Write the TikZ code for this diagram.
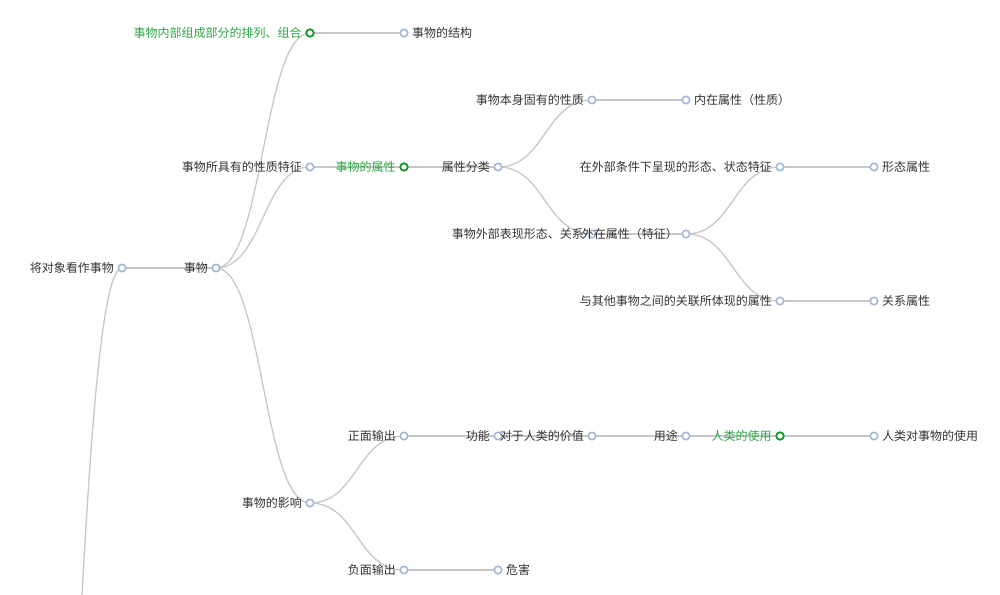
\documentclass[tikz,border=0pt]{standalone}
\usepackage{fontspec}
\setmainfont{Noto Sans CJK SC}
\usepackage{tikz}
\usetikzlibrary{positioning, calc}
\pgfdeclarelayer{background}
\pgfsetlayers{background,main}

\definecolor{linkgray}{HTML}{C8C8C8}
\definecolor{dotblue}{HTML}{9FB4D6}
\definecolor{dotgreen}{HTML}{119A2A}
\definecolor{hlgreen}{HTML}{2EA545}
\definecolor{txtgray}{HTML}{333333}

\begin{document}
\begin{tikzpicture}[x=1pt, y=-1pt,
    dot/.style={circle, draw=dotblue, fill=white, line width=1.5pt, minimum size=7.5pt, inner sep=0pt},
    hldot/.style={dot, draw=dotgreen, line width=1.8pt},
    lbl/.style={font=\fontsize{12}{14}\selectfont, text=txtgray, inner sep=0pt, text height=10.5pt, text depth=1.5pt},
    hl/.style={lbl, text=hlgreen},
    link/.style={draw=linkgray, line width=1.3pt},
    branch/.style={to path={let \p1=(\tikztostart), \p2=(\tikztotarget) in
        .. controls ({0.5*\x1+0.5*\x2},\y1) and ({0.5*\x1+0.5*\x2},\y2) .. (\tikztotarget)}},
]
  \useasboundingbox (0,0) rectangle (1000,594);

  % root sits below the visible area
  \coordinate (root) at (28,1190);

  % level 1-2
  \node[dot] (obj) at (122,268) {};
  \node[dot] (thing) at (216,268) {};

  % structure branch
  \node[hldot] (inner) at (310,33) {};
  \node[dot] (struct) at (404,33) {};

  % attribute branch
  \node[dot] (feat) at (310,167) {};
  \node[hldot] (attr) at (404,167) {};
  \node[dot] (cls) at (498,167) {};
  \node[dot] (intr) at (592,100) {};
  \node[dot] (intrattr) at (686,100) {};
  \node[dot] (outer) at (592,234) {};
  \node[dot] (extattr) at (686,234) {};
  \node[dot] (form) at (780,167) {};
  \node[dot] (formattr) at (874,167) {};
  \node[dot] (rel) at (780,301) {};
  \node[dot] (relattr) at (874,301) {};

  % effect branch
  \node[dot] (effect) at (310,503) {};
  \node[dot] (pos) at (404,436) {};
  \node[dot] (func) at (498,436) {};
  \node[dot] (value) at (592,436) {};
  \node[dot] (use) at (686,436) {};
  \node[hldot] (humuse) at (780,436) {};
  \node[dot] (humthing) at (874,436) {};
  \node[dot] (neg) at (404,570) {};
  \node[dot] (harm) at (498,570) {};

  % links
  \begin{pgfonlayer}{background}
    \clip (0,0) rectangle (1000,594);
    \draw[link] (root) to[branch] (obj.center);
    \draw[link] (obj.center) to[branch] (thing.center);
    \draw[link] (thing.center) to[branch] (inner.center);
    \draw[link] (thing.center) to[branch] (feat.center);
    \draw[link] (thing.center) to[branch] (effect.center);
    \draw[link] (inner.center) to[branch] (struct.center);
    \draw[link] (feat.center) to[branch] (attr.center);
    \draw[link] (attr.center) to[branch] (cls.center);
    \draw[link] (cls.center) to[branch] (intr.center);
    \draw[link] (cls.center) to[branch] (outer.center);
    \draw[link] (intr.center) to[branch] (intrattr.center);
    \draw[link] (outer.center) to[branch] (extattr.center);
    \draw[link] (extattr.center) to[branch] (form.center);
    \draw[link] (extattr.center) to[branch] (rel.center);
    \draw[link] (form.center) to[branch] (formattr.center);
    \draw[link] (rel.center) to[branch] (relattr.center);
    \draw[link] (effect.center) to[branch] (pos.center);
    \draw[link] (effect.center) to[branch] (neg.center);
    \draw[link] (pos.center) to[branch] (func.center);
    \draw[link] (func.center) to[branch] (value.center);
    \draw[link] (value.center) to[branch] (use.center);
    \draw[link] (use.center) to[branch] (humuse.center);
    \draw[link] (humuse.center) to[branch] (humthing.center);
    \draw[link] (neg.center) to[branch] (harm.center);
  \end{pgfonlayer}

  % labels
  \node[lbl, left=3.5pt of obj] (t-obj) {将对象看作事物};
  \node[lbl, left=3.5pt of thing] (t-thing) {事物};
  \node[hl, left=3.5pt of inner] (t-inner) {事物内部组成部分的排列、组合};
  \node[lbl, right=3.5pt of struct] (t-struct) {事物的结构};
  \node[lbl, left=3.5pt of feat] (t-feat) {事物所具有的性质特征};
  \node[hl, left=3.5pt of attr] (t-attr) {事物的属性};
  \node[lbl, left=3.5pt of cls] (t-cls) {属性分类};
  \node[lbl, left=3.5pt of intr] (t-intr) {事物本身固有的性质};
  \node[lbl, right=3.5pt of intrattr] (t-intrattr) {内在属性（性质）};
  \node[lbl, left=3.5pt of outer] (t-outer) {事物外部表现形态、关系};
  \node[lbl, left=3.5pt of extattr] (t-extattr) {外在属性（特征）};
  \node[lbl, left=3.5pt of form] (t-form) {在外部条件下呈现的形态、状态特征};
  \node[lbl, right=3.5pt of formattr] (t-formattr) {形态属性};
  \node[lbl, left=3.5pt of rel] (t-rel) {与其他事物之间的关联所体现的属性};
  \node[lbl, right=3.5pt of relattr] (t-relattr) {关系属性};
  \node[lbl, left=3.5pt of effect] (t-effect) {事物的影响};
  \node[lbl, left=3.5pt of pos] (t-pos) {正面输出};
  \node[lbl, left=3.5pt of func] (t-func) {功能};
  \node[lbl, left=3.5pt of value] (t-value) {对于人类的价值};
  \node[lbl, left=3.5pt of use] (t-use) {用途};
  \node[hl, left=3.5pt of humuse] (t-humuse) {人类的使用};
  \node[lbl, right=3.5pt of humthing] (t-humthing) {人类对事物的使用};
  \node[lbl, left=3.5pt of neg] (t-neg) {负面输出};
  \node[lbl, right=3.5pt of harm] (t-harm) {危害};
\end{tikzpicture}
\end{document}
